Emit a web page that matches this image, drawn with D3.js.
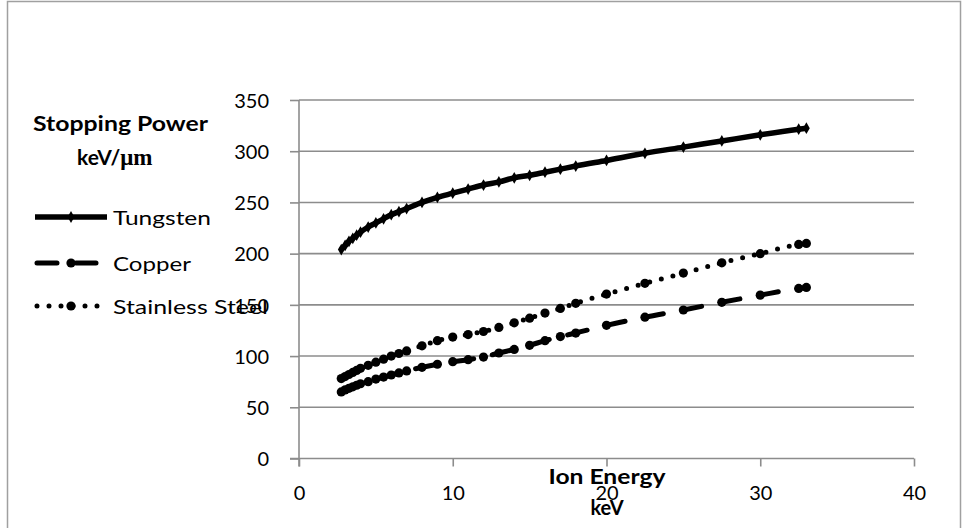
<!DOCTYPE html>
<html><head><meta charset="utf-8">
<script src="https://cdn.jsdelivr.net/npm/d3@7"></script>
<style>
html,body{margin:0;padding:0;background:#fff;}
text{font-family:Lato,"Open Sans",sans-serif;fill:#000;}
</style></head>
<body>
<svg id="c" width="963" height="528"></svg>
<script>
const energy = [2.75,3,3.25,3.5,3.75,4,4.5,5,5.5,6,6.5,7,8,9,10,11,12,13,14,15,16,17,18,20,22.5,25,27.5,30,32.5,33];
const tungsten = [204,208,212,215,218,221,226,230,234,238,241,244,250,255,259,263,267,270,274,276.5,279.5,282.5,285.5,291,298,304,310,316,321.5,322.5];
const copper = [65,67,68.5,70,71.5,73,75,77.5,79.5,81.5,83.5,85.5,89,92,94.5,96.5,99,103,106.5,110.5,115,119,122.5,130,138,145,152.5,159.5,166,167];
const stainless = [78,80,82,84,86,88,91,94,97,100,102.5,105,110,115,118.5,121,124,128,132.5,137,142,146.5,151.5,160.5,171,181,191,200,209,210];
const seriesNames = ["Tungsten","Copper","Stainless Steel"];
const xTicks = [0,10,20,30,40];
const yTicks = [0,50,100,150,200,250,300,350];

const svg = d3.select("#c");
const x = d3.scaleLinear().domain([0,40]).range([299,914]);
const y = d3.scaleLinear().domain([0,350]).range([458.5,100]);
const grid = "#8c8c8c";

// chart frame
svg.append("rect").attr("x",7.5).attr("y",1.5).attr("width",953).attr("height",560)
  .attr("fill","none").attr("stroke","#a0a0a0").attr("stroke-width",1.5);

// gridlines
svg.append("g").selectAll("line").data(yTicks.filter(d=>d>0)).join("line")
  .attr("x1",x(0)).attr("x2",x(40)).attr("y1",d=>y(d)).attr("y2",d=>y(d))
  .attr("stroke",grid).attr("stroke-width",1.6);

// y axis
const yAxis = d3.axisLeft(y).tickValues(yTicks).tickSize(9).tickPadding(21).tickFormat(d3.format("d"));
const gy = svg.append("g").attr("transform",`translate(${x(0)},0)`).call(yAxis);
gy.select(".domain").remove();
gy.append("line").attr("x1",0).attr("x2",0).attr("y1",y(350)).attr("y2",y(0)+8).attr("stroke",grid).attr("stroke-width",1.6);
gy.selectAll(".tick line").attr("stroke",grid).attr("stroke-width",1.6);
gy.selectAll(".tick text").attr("font-size",20).attr("font-family","Lato").attr("fill","#000").attr("dy","0.36em");

// x axis
const xAxis = d3.axisBottom(x).tickValues(xTicks).tickSize(8).tickPadding(19).tickFormat(d3.format("d"));
const gx = svg.append("g").attr("transform",`translate(0,${y(0)})`).call(xAxis);
gx.select(".domain").remove();
gx.append("line").attr("x1",x(0)-9).attr("x2",x(40)).attr("y1",0).attr("y2",0).attr("stroke",grid).attr("stroke-width",1.6);
gx.selectAll(".tick line").attr("stroke",grid).attr("stroke-width",1.6);
gx.selectAll(".tick text").attr("font-size",20).attr("font-family","Lato").attr("fill","#000");

// series
const styles = [
  {data:tungsten, w:5.5, dash:null, cap:"butt", marker:"diamond"},
  {data:copper, w:5, dash:"20,19", cap:"round", marker:"circle"},
  {data:stainless, w:5, dash:"0,12", cap:"round", marker:"circle"}
];
const line = d3.line().x(d=>x(d[0])).y(d=>y(d[1])).curve(d3.curveMonotoneX);
styles.forEach(s=>{
  const pts = energy.map((e,i)=>[e,s.data[i]]);
  svg.append("path").attr("d",line(pts)).attr("fill","none").attr("stroke","#000")
    .attr("stroke-width",s.w).attr("stroke-linecap",s.cap).attr("stroke-linejoin","round")
    .attr("stroke-dasharray",s.dash);
  const g = svg.append("g");
  if(s.marker==="diamond"){
    g.selectAll("path").data(pts).join("path")
      .attr("d",d3.symbol(d3.symbolDiamond,40)()).attr("transform",d=>`translate(${x(d[0])},${y(d[1])})`).attr("fill","#000");
  } else {
    g.selectAll("circle").data(pts).join("circle").attr("cx",d=>x(d[0])).attr("cy",d=>y(d[1])).attr("r",4.6).attr("fill","#000");
  }
});

// y title
svg.append("text").attr("x",33).attr("y",131).attr("font-size",21).attr("font-weight","bold")
  .attr("textLength",175).attr("lengthAdjust","spacingAndGlyphs").text("Stopping Power");
const t2 = svg.append("text").attr("x",77).attr("y",165).attr("font-size",21).attr("font-weight","bold");
t2.append("tspan").text("keV/");
t2.append("tspan").attr("font-family","'Liberation Serif','DejaVu Serif',serif").attr("font-size",23).text("μm");

// legend
const legY = [217,263,306];
styles.forEach((s,i)=>{
  const ly = legY[i];
  svg.append("line").attr("x1",s.dash?37:35).attr("x2",107).attr("y1",ly).attr("y2",ly)
    .attr("stroke","#000").attr("stroke-width",s.w).attr("stroke-linecap",s.cap).attr("stroke-dasharray",s.dash);
  if(s.marker==="diamond"){
    svg.append("path").attr("d",d3.symbol(d3.symbolDiamond,40)()).attr("transform",`translate(71,${ly})`).attr("fill","#000");
  } else {
    svg.append("circle").attr("cx",71).attr("cy",ly).attr("r",4.6).attr("fill","#000");
  }
});
const legW = [98,78,155];
seriesNames.forEach((n,i)=>{
  svg.append("text").attr("x",113).attr("y",legY[i]+7.5).attr("font-size",20)
    .attr("textLength",legW[i]).attr("lengthAdjust","spacingAndGlyphs").text(n);
});

// x title
svg.append("text").attr("x",607).attr("y",484).attr("text-anchor","middle").attr("font-size",20).attr("font-weight","bold")
  .attr("textLength",117).attr("lengthAdjust","spacingAndGlyphs").text("Ion Energy");
svg.append("text").attr("x",607).attr("y",515).attr("text-anchor","middle").attr("font-size",20).attr("font-weight","bold").text("keV");
</script>
</body></html>
